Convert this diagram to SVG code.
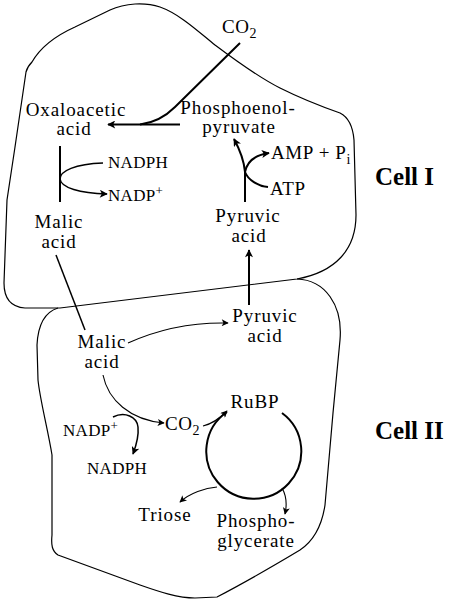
<svg xmlns="http://www.w3.org/2000/svg" width="449" height="600" viewBox="0 0 449 600">
<style>
.cell{fill:none;stroke:#000;stroke-width:1.2}
.t{font-family:"Liberation Serif","Times New Roman",serif;font-size:19px;letter-spacing:0.9px;fill:#000;text-anchor:middle}
.st{text-anchor:start}
.sm{font-size:17px;letter-spacing:0.3px}
.b{font-family:"Liberation Serif","Times New Roman",serif;font-weight:bold;font-size:25px;fill:#000}
.c{fill:none;stroke:#000;stroke-width:2}
.cm{fill:none;stroke:#000;stroke-width:1.5}
.ct{fill:none;stroke:#000;stroke-width:1.1}
</style>
<defs>
<marker id="ah" viewBox="0 0 10 10" refX="9" refY="5" markerWidth="11" markerHeight="8" markerUnits="userSpaceOnUse" orient="auto">
<path d="M0,0 L10,5 L0,10 L2.5,5 z" fill="#000"/>
</marker>
<marker id="as" viewBox="0 0 10 10" refX="9" refY="5" markerWidth="9" markerHeight="7" markerUnits="userSpaceOnUse" orient="auto">
<path d="M0,0 L10,5 L0,10 L2.5,5 z" fill="#000"/>
</marker>
</defs>

<g id="cell1-outline">
<path class="cell" d="M32,62 C40,48 55,36 75,27 L110,10 C125,3 145,2 160,7 C180,14 200,33 215,45 C235,60 258,77 280,88 C300,98 320,106 340,113 C350,118 353,128 354,140 L356,215 C356,250 335,272 297,279 L60,308 L25,308 C10,307 4,298 4,283 L7,200 L15,147 L26,72 C27,68 29,65 32,62 Z"/>
</g>
<g id="cell2-outline">
<path class="cell" d="M58,308 C45,312 38,325 37,345 L38,380 C40,400 48,430 52,455 L52,535 C51,545 52,551 58,555 L140,585 C160,592 178,598 195,598 L217,597 C240,585 270,568 300,550 C315,540 322,525 325,505 L333,413 L340,340 C343,305 325,280 297,279"/>
</g>

<g id="connectors">
<path class="c" d="M240,43 L175,107 C165,117 152,123 140,124.5"/>
<path class="c" d="M180,124.5 L108,124.5" marker-end="url(#ah)"/>
<path class="c" d="M60,146 L60,202"/>
<path class="cm" d="M103,163 C75,164 60,171 60,179 C61,188 80,193 107,194" marker-end="url(#ah)"/>
<path class="c" d="M245,202 L245,172"/>
<path class="c" d="M245,172 C244,160 240,150 234,139" marker-end="url(#ah)"/>
<path class="c" d="M245,172 C247,162 255,155 269,153" marker-end="url(#ah)"/>
<path class="c" d="M268,187 C258,186 248,180 245,172"/>
<path class="c" d="M249,305 L249,250" marker-end="url(#ah)"/>
<path class="cm" d="M56,255 L85,330"/>
<path class="ct" d="M128,343 C150,333 185,322 228,323" marker-end="url(#as)"/>
<path class="ct" d="M103,375 C108,400 130,420 164,423" marker-end="url(#as)"/>
<path class="ct" d="M203,426 C212,424 220,418 227,411" marker-end="url(#as)"/>
<path class="c" d="M227,412 A47.5,47.5 0 1 0 282,413"/>
<path class="cm" d="M113,417 C125,411 137,417 138,427 C139,437 136,446 133,454" marker-end="url(#ah)"/>
<path class="ct" d="M217,487 C205,488 190,493 180,502" marker-end="url(#as)"/>
<path class="ct" d="M282,488 C286,495 287,505 285,514" marker-end="url(#as)"/>
</g>

<g id="co2-top"><text class="t st" x="222" y="33" style="font-size:19px;letter-spacing:0.5px">CO<tspan dy="5" style="font-size:14px">2</tspan></text></g>
<g id="oxaloacetic"><text class="t" x="76" y="116">Oxaloacetic</text><text class="t" x="74" y="135">acid</text></g>
<g id="pep"><text class="t" x="238" y="114">Phosphoenol-</text><text class="t" x="239" y="133">pyruvate</text></g>
<g id="nadph1"><text class="t st sm" x="108" y="168">NADPH</text></g>
<g id="nadp1"><text class="t st sm" x="108" y="201">NADP<tspan dy="-6" style="font-size:13px">+</tspan></text></g>
<g id="malic1"><text class="t" x="59" y="228">Malic</text><text class="t" x="59" y="248">acid</text></g>
<g id="amp"><text class="t st" x="271" y="159" style="letter-spacing:0.6px">AMP + P<tspan dy="5" style="font-size:14px">i</tspan></text></g>
<g id="atp"><text class="t st" x="270" y="195" style="letter-spacing:0.6px">ATP</text></g>
<g id="pyruvic1"><text class="t" x="248" y="222">Pyruvic</text><text class="t" x="249" y="242">acid</text></g>
<g id="cell1-label"><text class="b" x="375" y="185">Cell I</text></g>

<g id="pyruvic2"><text class="t" x="265" y="322">Pyruvic</text><text class="t" x="265" y="342">acid</text></g>
<g id="malic2"><text class="t" x="102" y="348">Malic</text><text class="t" x="102" y="368">acid</text></g>
<g id="co2-cell2"><text class="t st" x="165" y="430" style="letter-spacing:0.5px">CO<tspan dy="5" style="font-size:14px">2</tspan></text></g>
<g id="rubp"><text class="t" x="255" y="408">RuBP</text></g>
<g id="nadp2"><text class="t st sm" x="63" y="436">NADP<tspan dy="-6" style="font-size:13px">+</tspan></text></g>
<g id="nadph2"><text class="t st sm" x="87" y="474">NADPH</text></g>
<g id="triose"><text class="t" x="165" y="521">Triose</text></g>
<g id="pga"><text class="t" x="256" y="527">Phospho-</text><text class="t" x="256" y="547">glycerate</text></g>
<g id="cell2-label"><text class="b" x="375" y="439">Cell II</text></g>
</svg>
